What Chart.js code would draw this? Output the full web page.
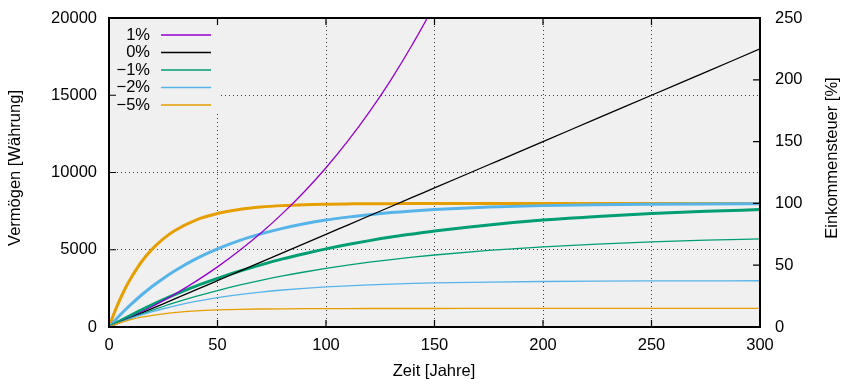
<!DOCTYPE html>
<html><head><meta charset="utf-8">
<script src="https://cdn.jsdelivr.net/npm/chart.js@4"></script>
<style>html,body{margin:0;padding:0;background:#fff}canvas{display:block}</style>
</head><body>
<canvas id="c" width="841" height="379"></canvas>
<script>
// Years (x values)
const years = [0,2,4,6,8,10,15,20,25,30,40,50,60,70,80,90,100,110,120,130,140,150,175,200,225,250,275,300];
// Wealth (left axis, Währung)
const wealthP1 = [0,121,245,371,500,631,971,1328,1704,2099,2951,3892,4933,6083,7353,8758,10310,12025,13921,16016,18331,20890,28528,38334,50926,67095,87858,114513];
const wealth0  = [0,120,240,360,480,600,900,1200,1500,1800,2400,3000,3600,4200,4800,5400,6000,6600,7200,7800,8400,9000,10500,12000,13500,15000,16500,18000];
const wealthM1 = [0,119,235,349,461,571,836,1088,1327,1555,1978,2361,2707,3020,3304,3560,3793,4003,4193,4365,4520,4661,4957,5188,5368,5507,5617,5701];
const wealthM2 = [0,118,231,339,444,544,778,989,1181,1354,1652,1896,2096,2260,2394,2504,2594,2668,2728,2777,2818,2851,2909,2945,2967,2980,2988,2993];
const wealthM5 = [0,114,218,311,396,472,633,759,856,932,1038,1102,1140,1164,1178,1187,1192,1195,1197,1198,1199,1199,1200,1200,1200,1200,1200,1200];
// Income tax (right axis, %)
const taxM1 = [0,2.0,3.9,5.8,7.7,9.5,13.9,18.1,22.1,25.9,33.0,39.3,45.1,50.3,55.1,59.3,63.2,66.7,69.9,72.8,75.3,77.7,82.6,86.5,89.5,91.8,93.6,95.0];
const taxM2 = [0,3.9,7.7,11.3,14.8,18.1,25.9,33.0,39.3,45.1,55.1,63.2,69.9,75.3,79.8,83.5,86.5,88.9,90.9,92.6,93.9,95.0,97.0,98.2,98.9,99.3,99.6,99.8];
const taxM5 = [0,9.5,18.1,25.9,33.0,39.3,52.8,63.2,71.3,77.7,86.5,91.8,95.0,97.0,98.2,98.9,99.3,99.6,99.8,99.8,99.9,99.9,100,100,100,100,100,100];
// Legend / ticks
const legendLabels = ['1%','0%','\u22121%','\u22122%','\u22125%'];
const xTicks = [0,50,100,150,200,250,300];
const yTicks = [0,5000,10000,15000,20000];
const y2Ticks = [0,50,100,150,200,250];

const C = {p:'#9400d3', k:'#000000', g:'#009e73', b:'#56b4e9', o:'#e69f00'};
const legendColors = [C.p, C.k, C.g, C.b, C.o];
const FONT = '"Liberation Sans", Arial, sans-serif';
const FS = 16.5;
const AREA = {left:109, top:18, right:760, bottom:327};
const pts = arr => years.map((x,i)=>({x, y:arr[i]}));

function ds(arr, color, w, axis){
  return {data: pts(arr), borderColor: color, backgroundColor: color, borderWidth: w,
    pointRadius: 0, fill: false, cubicInterpolationMode: 'monotone', yAxisID: axis};
}

const frame = {
  id: 'frame',
  afterLayout(chart){
    const W = chart.width, H = chart.height, A = AREA;
    chart.chartArea = {left:A.left, top:A.top, right:A.right, bottom:A.bottom, width:A.right-A.left, height:A.bottom-A.top};
    const set = (s, l, t, r, b) => { s.left=l; s.top=t; s.right=r; s.bottom=b; s.width=r-l; s.height=b-t; s.configure(); };
    set(chart.scales.x, A.left, A.bottom, A.right, H);
    set(chart.scales.y, 0, A.top, A.left, A.bottom);
    set(chart.scales.y1, A.right, A.top, W, A.bottom);
  },
  beforeDraw(chart){
    const {ctx, chartArea:a} = chart;
    ctx.save(); ctx.fillStyle = '#f0f0f0';
    ctx.fillRect(a.left, a.top, a.right-a.left, a.bottom-a.top);
    ctx.restore();
  },
  beforeDatasetsDraw(chart){
    const {ctx, chartArea:a} = chart;
    ctx.save();
    ctx.fillStyle = '#f0f0f0';
    ctx.fillRect(a.left+1, a.top+1, 111, 95);
    ctx.font = FS + 'px ' + FONT;
    ctx.textAlign = 'right'; ctx.textBaseline = 'middle';
    legendLabels.forEach((t,i)=>{
      const y = 35 + i*17.5;
      ctx.fillStyle = '#000';
      ctx.fillText(t, 150, y);
      ctx.strokeStyle = legendColors[i]; ctx.lineWidth = 1.5;
      ctx.beginPath(); ctx.moveTo(161, y); ctx.lineTo(211, y); ctx.stroke();
    });
    ctx.restore();
  },
  afterDraw(chart){
    const {ctx, chartArea:a, scales} = chart;
    ctx.save();
    ctx.strokeStyle = '#000'; ctx.lineWidth = 1.2;
    const tl = 7;
    ctx.beginPath();
    yTicks.forEach(v=>{const y=scales.y.getPixelForValue(v); ctx.moveTo(a.left,y); ctx.lineTo(a.left+tl,y);});
    y2Ticks.forEach(v=>{const y=scales.y1.getPixelForValue(v); ctx.moveTo(a.right,y); ctx.lineTo(a.right-tl,y);});
    xTicks.forEach(v=>{const x=scales.x.getPixelForValue(v); ctx.moveTo(x,a.bottom); ctx.lineTo(x,a.bottom-tl); ctx.moveTo(x,a.top); ctx.lineTo(x,a.top+tl);});
    ctx.stroke();
    ctx.lineWidth = 2;
    ctx.strokeRect(a.left, a.top, a.right-a.left, a.bottom-a.top);
    ctx.fillStyle = '#000';
    ctx.font = FS + 'px ' + FONT;
    ctx.textAlign = 'center'; ctx.textBaseline = 'middle';
    ctx.fillText('Zeit [Jahre]', 434, 371);
    ctx.save(); ctx.translate(15, 168); ctx.rotate(-Math.PI/2);
    ctx.fillText('Verm\u00f6gen [W\u00e4hrung]', 0, 0); ctx.restore();
    ctx.save(); ctx.translate(832, 158); ctx.rotate(-Math.PI/2);
    ctx.fillText('Einkommensteuer [%]', 0, 0); ctx.restore();
    ctx.restore();
  }
};

new Chart(document.getElementById('c'), {
  type: 'line',
  data: { datasets: [
    ds(wealthM5, C.o, 1.3, 'y'),
    ds(wealthM2, C.b, 1.3, 'y'),
    ds(wealthM1, C.g, 1.3, 'y'),
    ds(wealth0, C.k, 1.3, 'y'),
    ds(wealthP1, C.p, 1.3, 'y'),
    ds(taxM1, C.g, 3, 'y1'),
    ds(taxM2, C.b, 3, 'y1'),
    ds(taxM5, C.o, 3, 'y1')
  ]},
  options: {
    responsive: false, animation: false, devicePixelRatio: 1,
    layout: {padding: 0, autoPadding: false},
    plugins: {legend: {display: false}, tooltip: {enabled: false}},
    scales: {
      x: {type: 'linear', min: 0, max: 300,
        afterBuildTicks(s){ s.ticks = xTicks.map(v=>({value:v})); },
        ticks: {color: '#000', font: {family: FONT, size: FS}, padding: 9, callback: v=>String(v), maxRotation: 0, autoSkip: false},
        grid: {color: 'rgba(0,0,0,0.75)', lineWidth: 1, drawTicks: false},
        border: {display: false, dash: [1,3]}},
      y: {min: 0, max: 20000, position: 'left',
        afterBuildTicks(s){ s.ticks = yTicks.map(v=>({value:v})); },
        ticks: {color: '#000', font: {family: FONT, size: FS}, padding: 12, callback: v=>String(v), autoSkip: false},
        grid: {color: 'rgba(0,0,0,0.75)', lineWidth: 1, drawTicks: false},
        border: {display: false, dash: [1,3]}},
      y1: {min: 0, max: 250, position: 'right',
        afterBuildTicks(s){ s.ticks = y2Ticks.map(v=>({value:v})); },
        ticks: {color: '#000', font: {family: FONT, size: FS}, padding: 15, callback: v=>String(v), autoSkip: false},
        grid: {display: false, drawTicks: false},
        border: {display: false}}
    }
  },
  plugins: [frame]
});
</script>
</body></html>
